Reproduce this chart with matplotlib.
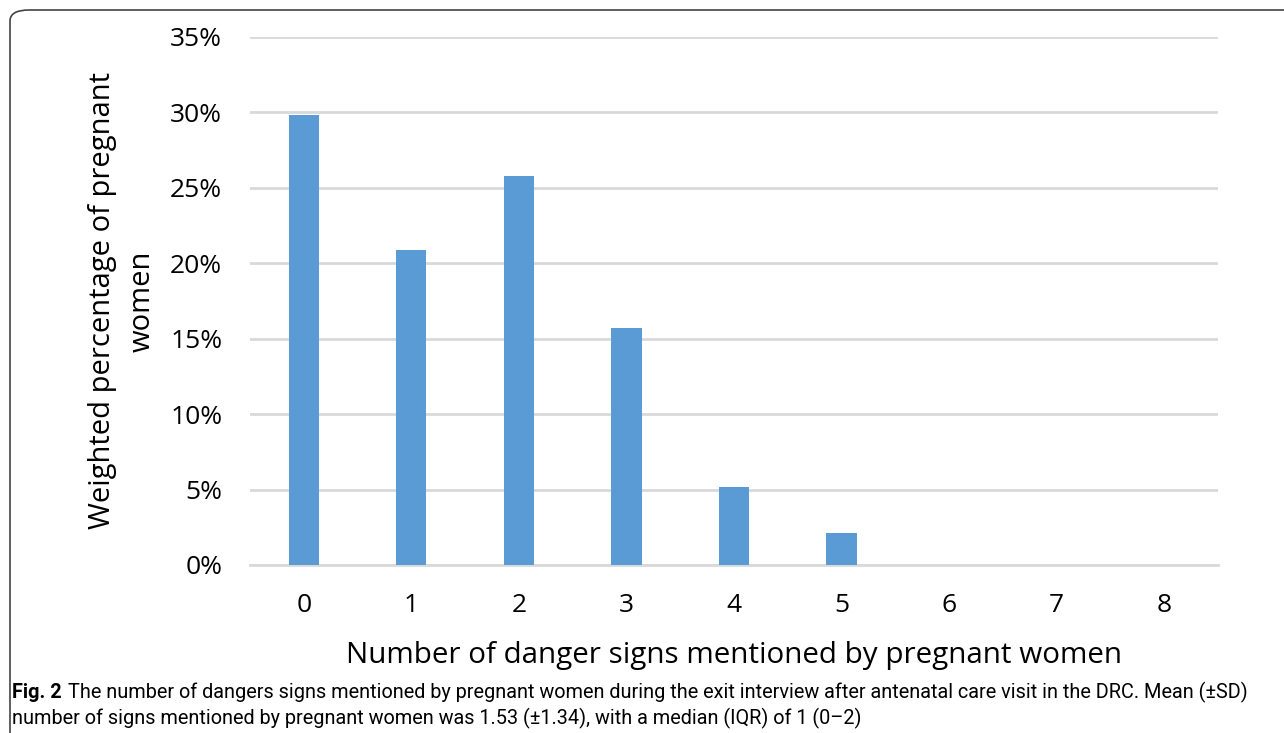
import matplotlib
matplotlib.use("Agg")
import matplotlib.pyplot as plt
from matplotlib.patches import FancyBboxPatch
from matplotlib.ticker import FuncFormatter

categories = ["0", "1", "2", "3", "4", "5", "6", "7", "8"]
values = [29.8, 20.9, 25.8, 15.7, 5.2, 2.1, 0, 0, 0]
yticks = [0, 5, 10, 15, 20, 25, 30, 35]

W, H = 1284, 733
fig = plt.figure(figsize=(W / 100, H / 100), dpi=100)
fig.patch.set_facecolor("white")

# frame (rounded, open to the right and bottom)
frame = FancyBboxPatch((10 / W, -0.05), 1.2, 1.05 - 10 / H,
                       boxstyle="round,pad=0,rounding_size=0.015",
                       transform=fig.transFigure, fill=False,
                       edgecolor="#444444", linewidth=1.2, clip_on=False)
fig.patches.append(frame)

ax = fig.add_axes([250 / W, 1 - 565 / H, (1218 - 250) / W, (565 - 37) / H])
x = list(range(len(categories)))
ax.bar(x, values, width=0.28, color="#5B9BD5", zorder=3)
ax.set_xlim(-0.5, len(categories) - 0.5)
ax.set_ylim(0, 35)
ax.set_yticks(yticks)
ax.yaxis.set_major_formatter(FuncFormatter(lambda v, p: f"{int(v)}%"))
ax.set_xticks(x)
ax.set_xticklabels(categories)
ax.grid(axis="y", color="#d9d9d9", linewidth=2, zorder=0)
for s in ["top", "right", "left"]:
    ax.spines[s].set_visible(False)
ax.spines["bottom"].set_color("#d9d9d9")
ax.spines["bottom"].set_linewidth(2)
ax.tick_params(axis="both", length=0, labelsize=19, colors="#000000")
ax.tick_params(axis="y", pad=20)
ax.tick_params(axis="x", pad=20)
for lab in ax.get_xticklabels() + ax.get_yticklabels():
    lab.set_fontfamily("Open Sans")
ax.set_xlabel("Number of danger signs mentioned by pregnant women", fontsize=21.3,
              family="Open Sans", labelpad=17)
ax.set_ylabel("Weighted percentage of pregnant\nwomen", fontsize=21,
              family="Open Sans", labelpad=10, linespacing=1.45)

cap_font = "Roboto"
fig.text(12 / W, 1 - 692 / H, "Fig. 2", fontsize=14.3, fontweight="bold",
         family=cap_font, va="center", ha="left")
fig.text(68 / W, 1 - 692 / H,
         "The number of dangers signs mentioned by pregnant women during the exit interview after antenatal care visit in the DRC. Mean (\u00b1SD)",
         fontsize=14.3, family=cap_font, va="center", ha="left")
fig.text(12 / W, 1 - 718 / H,
         "number of signs mentioned by pregnant women was 1.53 (\u00b11.34), with a median (IQR) of 1 (0\u20132)",
         fontsize=14.3, family=cap_font, va="center", ha="left")

fig.savefig("out.png", dpi=100, facecolor="white")
